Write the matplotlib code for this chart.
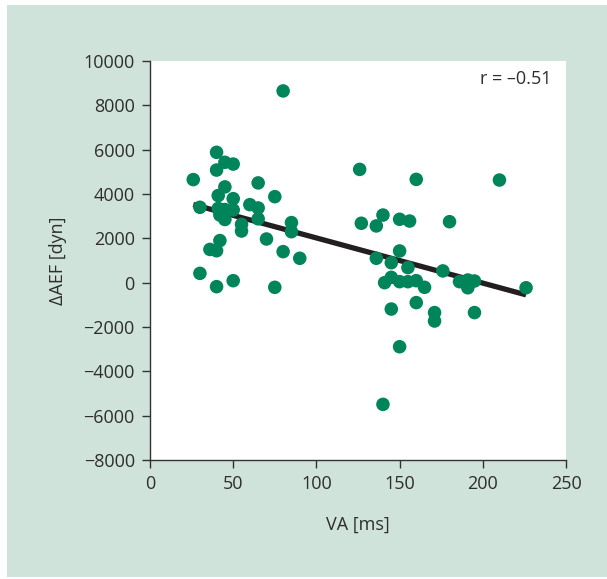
import numpy as np
import matplotlib
matplotlib.use("Agg")
import matplotlib.pyplot as plt
from matplotlib.patches import Rectangle

# VA [ms] vs change in AEF [dyn]
va = [26, 30, 30, 36, 40, 40, 41, 41, 42, 40, 40, 45, 45, 45, 42, 45, 42,
      50, 50, 50, 50, 55, 55, 60, 65, 65, 65, 70, 75, 75, 80, 80, 85, 85, 90,
      126, 160, 210, 140, 127, 136, 150, 156, 180, 150, 136, 145, 155, 176,
      141, 145, 150, 155, 160, 165, 186, 191, 191, 195, 226, 145, 160, 171,
      171, 195, 150, 140]
aef = [4650, 3400, 420, 1500, 5880, 5080, 3930, 3350, 1900, 1440, -180,
       5430, 4320, 3300, 3050, 2850, 3200,
       5350, 3790, 3280, 90, 2630, 2330, 3520, 4500, 3370, 2880, 1970, 3880,
       -210, 8650, 1400, 2710, 2300, 1100,
       5110, 4660, 4630, 3050, 2680, 2560, 2860, 2780, 2750, 1430, 1100, 900,
       680, 530, 0, 240, 45, 45, 90, -210, 45, 120, -230, 75, -230, -1190,
       -900, -1350, -1730, -1350, -2890, -5490]
r_text = "r = \u20130.51"

xticks = [0, 50, 100, 150, 200, 250]
yticks = list(range(-8000, 10001, 2000))

plt.rcParams["font.family"] = ["Open Sans", "DejaVu Sans"]
fs = 13
tc = "#2e2e2e"

fig = plt.figure(figsize=(6.07, 5.79), dpi=100)
fig.patches.append(Rectangle((7 / 607, 2 / 579), 1, 1 - 7 / 579, transform=fig.transFigure,
                             facecolor="#cfe3da", edgecolor="none", zorder=-10))

ax = fig.add_axes([150 / 607, 1 - 460 / 579, 416 / 607, 399 / 579])
ax.set_facecolor("white")

ax.scatter(va, aef, s=95, color="#00845a", edgecolors="none", zorder=3)

# least squares line across the data range
k, b = np.polyfit(va, aef, 1)
xl = np.array([min(va), max(va)])
ax.plot(xl, k * xl + b, color="#231f20", lw=3.8, solid_capstyle="butt", zorder=2)

ax.set_xlim(0, 250)
ax.set_ylim(-8000, 10000)
ax.set_xticks(xticks)
ax.set_yticks(yticks)

for s in ["top", "right"]:
    ax.spines[s].set_visible(False)
for s in ["left", "bottom"]:
    ax.spines[s].set_color("#333333")
    ax.spines[s].set_linewidth(1.0)
ax.tick_params(direction="out", length=6, width=1.0, color="#333333",
               labelsize=fs, labelcolor=tc, pad=5)

ax.set_xlabel("VA [ms]", fontsize=fs, color=tc, labelpad=16)
ax.set_ylabel("\u0394AEF [dyn]", fontsize=fs, color=tc, labelpad=12)

ax.text(0.965, 0.955, r_text, transform=ax.transAxes, ha="right", va="center",
        fontsize=fs, color=tc)

fig.savefig("out.png", dpi=100)
